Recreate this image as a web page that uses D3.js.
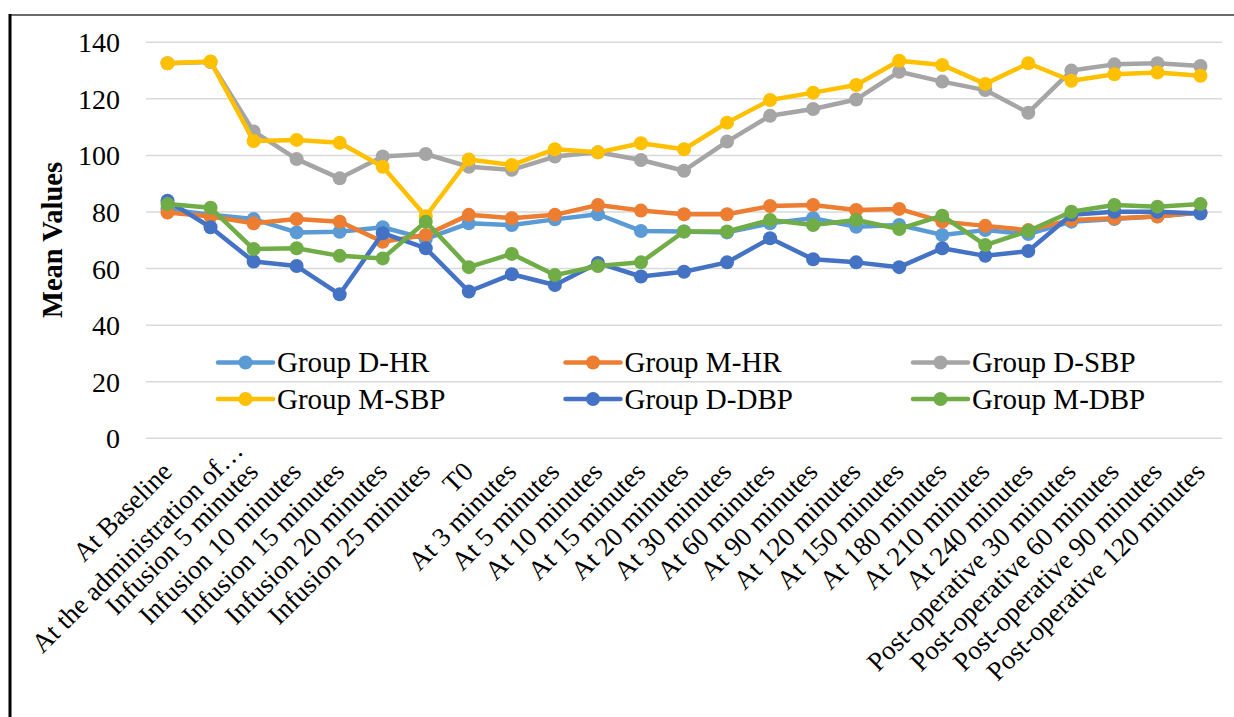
<!DOCTYPE html>
<html>
<head>
<meta charset="utf-8">
<script src="https://cdn.jsdelivr.net/npm/d3@7"></script>
<style>
  html, body { margin: 0; padding: 0; background: #fff; }
  svg { display: block; }
  text { font-family: "Liberation Serif", serif; }
</style>
</head>
<body>
<svg id="chart" width="1234" height="717"></svg>
<script>
// Time points of the hemodynamic record
const categories = [
  "At Baseline", "At the administration of…", "Infusion 5 minutes", "Infusion 10 minutes",
  "Infusion 15 minutes", "Infusion 20 minutes", "Infusion 25 minutes", "T0",
  "At 3 minutes", "At 5 minutes", "At 10 minutes", "At 15 minutes", "At 20 minutes",
  "At 30 minutes", "At 60 minutes", "At 90 minutes", "At 120 minutes", "At 150 minutes",
  "At 180 minutes", "At 210 minutes", "At 240 minutes", "Post-operative 30 minutes",
  "Post-operative 60 minutes", "Post-operative 90 minutes", "Post-operative 120 minutes"
];

// Mean values per group and parameter
const groupDHR  = [81, 79, 77.5, 72.8, 73, 74.6, 70.5, 76, 75.4, 77.4, 79.2, 73.3, 73.1, 72.8, 76, 77.8, 74.8, 75.4, 71.9, 73.6, 72.2, 76.6, 77.5, 78.5, 79.8];
const groupMHR  = [79.8, 78.4, 76, 77.5, 76.6, 69.5, 71.9, 79, 77.8, 79, 82.5, 80.5, 79.2, 79.2, 82.1, 82.5, 80.7, 81.1, 76.6, 75.1, 73.6, 77.2, 77.8, 78.4, 79.8];
const groupDSBP = [132.6, 133, 108.5, 98.7, 91.9, 99.6, 100.5, 96, 94.9, 99.6, 101.1, 98.4, 94.6, 104.9, 114, 116.4, 119.8, 129.6, 126.1, 123.1, 115.1, 130, 132.2, 132.6, 131.6];
const groupMSBP = [132.6, 133.2, 105.1, 105.5, 104.5, 96, 78.5, 98.6, 96.6, 102.2, 101.1, 104.3, 102.2, 111.6, 119.6, 122.2, 124.9, 133.5, 132, 125.3, 132.6, 126.4, 128.7, 129.3, 128.2];
const groupDDBP = [84, 74.6, 62.5, 60.9, 50.9, 72.5, 67.2, 51.9, 58, 54.2, 62, 57.2, 58.9, 62.2, 70.7, 63.3, 62.2, 60.5, 67.2, 64.5, 66.2, 79, 80.1, 80.1, 79.5];
const groupMDBP = [82.8, 81.5, 66.9, 67.2, 64.5, 63.6, 76.6, 60.5, 65.2, 57.7, 60.9, 62.2, 73.1, 73.1, 77.2, 75.4, 77.2, 74, 78.7, 68.3, 73.3, 80.1, 82.5, 81.9, 82.8];

const seriesNames = ["Group D-HR", "Group M-HR", "Group D-SBP", "Group M-SBP", "Group D-DBP", "Group M-DBP"];
const seriesColors = ["#5B9BD5", "#ED7D31", "#A5A5A5", "#FFC000", "#4472C4", "#70AD47"];
const yTicks = [0, 20, 40, 60, 80, 100, 120, 140];

const FONT = "Liberation Serif";

const series = [groupDHR, groupMHR, groupDSBP, groupMSBP, groupDDBP, groupMDBP].map((values, i) => ({
  name: seriesNames[i], color: seriesColors[i], values
}));

const svg = d3.select("#chart");
const plot = { left: 146, right: 1222, top: 42.3, bottom: 438.3 };

const x = d3.scaleBand().domain(categories).range([plot.left, plot.right]).padding(0);
const cx = c => x(c) + x.bandwidth() / 2;
const y = d3.scaleLinear().domain([0, 140]).range([plot.bottom, plot.top]);

// chart frame
svg.append("rect").attr("width", 1234).attr("height", 717).attr("fill", "#fff");
svg.append("line").attr("x1", 10).attr("x2", 1234).attr("y1", 15).attr("y2", 15)
  .attr("stroke", "#3a3a3a").attr("stroke-width", 1.5);
svg.append("line").attr("x1", 10).attr("x2", 10).attr("y1", 14).attr("y2", 717)
  .attr("stroke", "#000").attr("stroke-width", 3);

// horizontal gridlines
svg.append("g").selectAll("line").data(yTicks).join("line")
  .attr("x1", plot.left).attr("x2", plot.right)
  .attr("y1", d => y(d)).attr("y2", d => y(d))
  .attr("stroke", "#D9D9D9").attr("stroke-width", 1.5);

// y axis labels
const yAxis = d3.axisLeft(y).tickValues(yTicks).tickSize(0).tickPadding(0);
const yg = svg.append("g").attr("transform", "translate(120,0)").call(yAxis)
  .attr("font-family", FONT);
yg.select(".domain").remove();
yg.selectAll("text").attr("font-size", 28).attr("font-family", FONT).attr("fill", "#000").attr("dy", "0.34em");

// y axis title
svg.append("text")
  .attr("transform", "translate(62,240) rotate(-90)")
  .attr("text-anchor", "middle")
  .attr("font-family", FONT)
  .attr("font-size", 28.5).attr("font-weight", "bold").attr("fill", "#000")
  .text("Mean Values");

// category labels, rotated
const xAxis = d3.axisBottom(x).tickSize(0).tickPadding(0);
const xg = svg.append("g").attr("transform", `translate(0,${plot.bottom})`).call(xAxis)
  .attr("font-family", FONT);
xg.select(".domain").remove();
xg.selectAll("text")
  .attr("font-size", 27).attr("font-family", FONT).attr("fill", "#000")
  .attr("text-anchor", "end")
  .attr("dy", null).attr("y", null)
  .attr("transform", d => d.endsWith("…") ? "translate(34,14) rotate(-45)" : "translate(6,35) rotate(-45)");

// series lines and markers
const line = d3.line().x((d, i) => cx(categories[i])).y(d => y(d));
const sg = svg.append("g").selectAll("g").data(series).join("g");
sg.append("path")
  .attr("d", d => line(d.values))
  .attr("fill", "none").attr("stroke", d => d.color)
  .attr("stroke-width", 4.5).attr("stroke-linejoin", "round").attr("stroke-linecap", "round");
sg.selectAll("circle").data(d => d.values.map(v => ({ v, color: d.color }))).join("circle")
  .attr("cx", (d, i) => cx(categories[i])).attr("cy", d => y(d.v))
  .attr("r", 7).attr("fill", d => d.color);

// legend: 3 columns x 2 rows
const legend = svg.append("g");
const items = legend.selectAll("g").data(series).join("g")
  .attr("transform", (d, i) => `translate(${218 + (i % 3) * 347.5},${i < 3 ? 362.5 : 399})`);
items.append("line").attr("x1", 0).attr("x2", 55).attr("y1", 0).attr("y2", 0)
  .attr("stroke", d => d.color).attr("stroke-width", 4.5).attr("stroke-linecap", "round");
items.append("circle").attr("cx", 27.5).attr("cy", 0).attr("r", 7).attr("fill", d => d.color);
items.append("text").attr("x", 59).attr("y", 0).attr("dy", "0.34em")
  .attr("font-family", FONT)
  .attr("font-size", 29).attr("fill", "#000").text(d => d.name);
</script>
</body>
</html>
